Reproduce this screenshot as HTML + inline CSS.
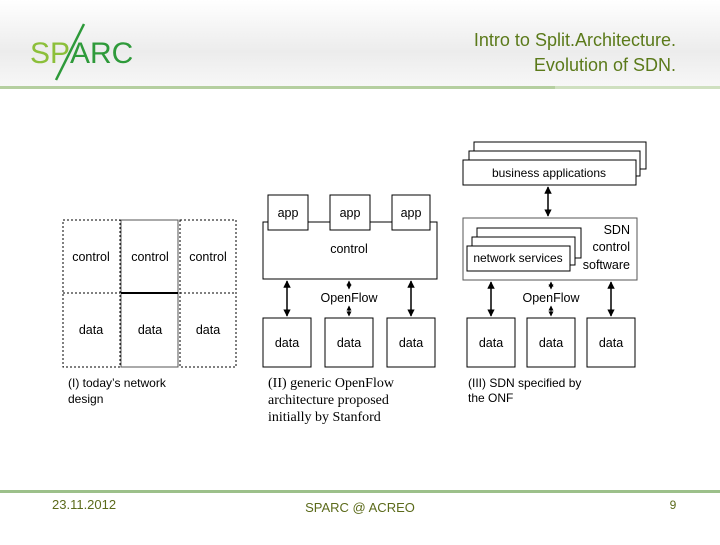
<!DOCTYPE html>
<html><head><meta charset="utf-8"><style>
body{margin:0;width:720px;height:540px;overflow:hidden;background:#fff}
</style></head><body>
<svg width="720" height="540" viewBox="0 0 720 540" xmlns="http://www.w3.org/2000/svg" font-family="Liberation Sans, sans-serif">
<defs>
<linearGradient id="hg" x1="0" y1="0" x2="0" y2="1">
<stop offset="0" stop-color="#ffffff"/><stop offset="0.6" stop-color="#ececec"/><stop offset="1" stop-color="#f7f7f7"/>
</linearGradient>
<marker id="a" viewBox="0 0 10 10" refX="9" refY="5" markerWidth="5" markerHeight="5" orient="auto-start-reverse"><path d="M0,0L10,5L0,10z" fill="#000"/></marker>
</defs>
<rect x="0" y="0" width="720" height="86" fill="url(#hg)"/>
<rect x="0" y="86" width="720" height="3" fill="#b5cfa0"/>
<rect x="555" y="86" width="165" height="3" fill="#cfe0c0"/>
<text x="30" y="63" font-size="30" fill="#8cbf3a">SP</text>
<text x="70" y="63" font-size="30" fill="#2e9a3a">ARC</text>
<line x1="56" y1="80" x2="84" y2="24" stroke="#2e9a3a" stroke-width="2.5"/>
<text x="676" y="46" font-size="18" fill="#5b7a1a" text-anchor="end">Intro to Split.Architecture.</text>
<text x="676" y="71" font-size="18" fill="#5b7a1a" text-anchor="end">Evolution of SDN.</text>

<g font-size="12.5" fill="#000" text-anchor="middle">
<!-- I -->
<g fill="none" stroke="#000" stroke-width="1" stroke-dasharray="2,2">
<rect x="63" y="220" width="57" height="147"/><rect x="180" y="220" width="56" height="147"/>
<line x1="63" y1="293" x2="120" y2="293"/><line x1="180" y1="293" x2="236" y2="293"/>
</g>
<rect x="121" y="220" width="57" height="147" fill="none" stroke="#555"/>
<line x1="121" y1="293" x2="178" y2="293" stroke="#000" stroke-width="2"/>
<text x="91" y="261">control</text><text x="150" y="261">control</text><text x="208" y="261">control</text>
<text x="91" y="334">data</text><text x="150" y="334">data</text><text x="208" y="334">data</text>
<g text-anchor="start" font-size="12"><text x="68" y="387">(I) today’s network</text><text x="68" y="403">design</text></g>

<!-- II -->
<rect x="263" y="222" width="174" height="57" fill="#fff" stroke="#000"/>
<rect x="268" y="195" width="40" height="35" fill="#fff" stroke="#000"/>
<rect x="330" y="195" width="40" height="35" fill="#fff" stroke="#000"/>
<rect x="392" y="195" width="38" height="35" fill="#fff" stroke="#000"/>
<text x="288" y="217">app</text><text x="350" y="217">app</text><text x="411" y="217">app</text>
<text x="349" y="253">control</text>
<g stroke="#000" stroke-width="1.5" marker-start="url(#a)" marker-end="url(#a)">
<line x1="287" y1="281" x2="287" y2="316"/><line x1="411" y1="281" x2="411" y2="316"/>
<line x1="349" y1="281" x2="349" y2="289" stroke-width="1"/><line x1="349" y1="306" x2="349" y2="316" stroke-width="1"/>
</g>
<text x="349" y="302">OpenFlow</text>
<rect x="263" y="318" width="48" height="49" fill="#fff" stroke="#000"/>
<rect x="325" y="318" width="48" height="49" fill="#fff" stroke="#000"/>
<rect x="387" y="318" width="48" height="49" fill="#fff" stroke="#000"/>
<text x="287" y="347">data</text><text x="349" y="347">data</text><text x="411" y="347">data</text>
<g text-anchor="start" font-size="14" font-family="Liberation Serif, serif"><text x="268" y="387">(II) generic OpenFlow</text><text x="268" y="404">architecture proposed</text><text x="268" y="421">initially by Stanford</text></g>

<!-- III -->
<rect x="474" y="142" width="172" height="27" fill="#fff" stroke="#000"/>
<rect x="469" y="151" width="171" height="25" fill="#fff" stroke="#000"/>
<rect x="463" y="160" width="173" height="25" fill="#fff" stroke="#000"/>
<text x="549" y="177" font-size="12">business applications</text>
<line x1="548" y1="187" x2="548" y2="216" stroke="#000" stroke-width="1.5" marker-start="url(#a)" marker-end="url(#a)"/>
<rect x="463" y="218" width="174" height="62" fill="#fff" stroke="#555"/>
<rect x="477" y="228" width="104" height="30" fill="#fff" stroke="#000"/>
<rect x="472" y="237" width="103" height="28" fill="#fff" stroke="#000"/>
<rect x="467" y="246" width="103" height="25" fill="#fff" stroke="#000"/>
<text x="518" y="262" font-size="12">network services</text>
<g text-anchor="end"><text x="630" y="234">SDN</text><text x="630" y="251">control</text><text x="630" y="269">software</text></g>
<g stroke="#000" stroke-width="1.5" marker-start="url(#a)" marker-end="url(#a)">
<line x1="491" y1="282" x2="491" y2="316"/><line x1="611" y1="282" x2="611" y2="316"/>
<line x1="551" y1="282" x2="551" y2="289" stroke-width="1"/><line x1="551" y1="306" x2="551" y2="316" stroke-width="1"/>
</g>
<text x="551" y="302">OpenFlow</text>
<rect x="467" y="318" width="48" height="49" fill="#fff" stroke="#000"/>
<rect x="527" y="318" width="48" height="49" fill="#fff" stroke="#000"/>
<rect x="587" y="318" width="48" height="49" fill="#fff" stroke="#000"/>
<text x="491" y="347">data</text><text x="551" y="347">data</text><text x="611" y="347">data</text>
<g text-anchor="start" font-size="12"><text x="468" y="387">(III) SDN specified by</text><text x="468" y="402">the ONF</text></g>
</g>

<rect x="0" y="490" width="720" height="3" fill="#9cc08a"/>
<g font-size="13" fill="#5b6a1a">
<text x="52" y="509">23.11.2012</text>
<text x="360" y="512" text-anchor="middle">SPARC @ ACREO</text>
<text x="673" y="509" text-anchor="middle" font-size="12">9</text>
</g>
</svg>
</body></html>
